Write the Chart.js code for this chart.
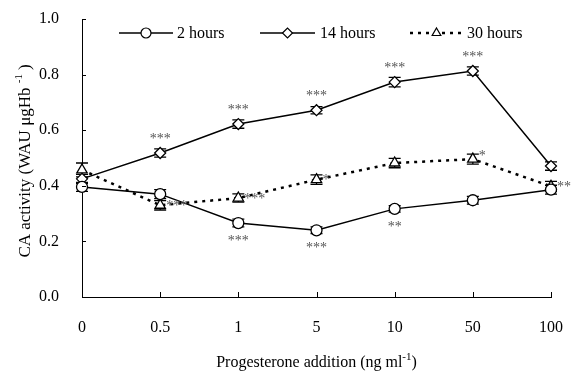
<!DOCTYPE html>
<html><head><meta charset="utf-8">
<script src="https://cdn.jsdelivr.net/npm/chart.js@4/dist/chart.umd.min.js"></script>
<style>html,body{margin:0;padding:0;background:#fff}#wrap{width:573px;height:372px}</style>
</head><body><div id="wrap"><canvas id="c" width="573" height="372"></canvas></div>
<script>
const categories = ['0', '0.5', '1', '5', '10', '50', '100'];
const seriesNames = ['2 hours', '14 hours', '30 hours'];
const hours2 = [0.396, 0.370, 0.266, 0.240, 0.317, 0.348, 0.386];
const hours14 = [0.425, 0.518, 0.622, 0.672, 0.773, 0.813, 0.471];
const hours30 = [0.457, 0.330, 0.356, 0.422, 0.482, 0.496, 0.398];
const err2 = [0.016, 0.016, 0.014, 0.012, 0.012, 0.014, 0.016];
const err14 = [0.016, 0.015, 0.015, 0.013, 0.017, 0.015, 0.015];
const err30 = [0.025, 0.017, 0.015, 0.017, 0.017, 0.018, 0.018];
const stars2 = ['', '', '***', '***', '**', '', ''];
const stars14 = ['', '***', '***', '***', '***', '***', ''];
const stars30 = ['', '***', '***', '*', '', '*', '**'];
const yTicks = [0, 0.2, 0.4, 0.6, 0.8, 1.0];

const FONT = '"Liberation Serif", "Times New Roman", serif';
const errs = [err2, err14, err30];

const overlay = {
  id: 'overlay',
  beforeDatasetsDraw(chart) {
    const ctx = chart.ctx, xs = chart.scales.x, ys = chart.scales.y;
    ctx.save();
    ctx.strokeStyle = '#000'; ctx.lineWidth = 1.3;
    chart.data.datasets.forEach((ds, i) => {
      ds.data.forEach((v, j) => {
        const x = xs.getPixelForValue(j);
        const y1 = ys.getPixelForValue(v + errs[i][j]);
        const y2 = ys.getPixelForValue(v - errs[i][j]);
        ctx.beginPath();
        ctx.moveTo(x, y1); ctx.lineTo(x, y2);
        ctx.moveTo(x - 6, y1); ctx.lineTo(x + 6, y1);
        ctx.moveTo(x - 6, y2); ctx.lineTo(x + 6, y2);
        ctx.stroke();
      });
    });
    ctx.restore();
  },
  afterDraw(chart) {
    const ctx = chart.ctx, xs = chart.scales.x, ys = chart.scales.y;
    const ca = chart.chartArea;
    ctx.save();
    ctx.strokeStyle = '#000'; ctx.lineWidth = 1;
    ys.ticks.forEach(t => {
      const y = Math.round(ys.getPixelForValue(t.value)) + 0.5;
      ctx.beginPath(); ctx.moveTo(ca.left, y); ctx.lineTo(ca.left + 4, y); ctx.stroke();
    });
    categories.forEach((c, j) => {
      const x = Math.round(xs.getPixelForValue(j)) + 0.5;
      ctx.beginPath(); ctx.moveTo(x, ca.bottom); ctx.lineTo(x, ca.bottom - 5); ctx.stroke();
    });
    // significance stars
    ctx.fillStyle = '#555';
    ctx.font = '14px ' + FONT;
    ctx.textBaseline = 'middle';
    const ds = chart.data.datasets;
    stars14.forEach((s, j) => {
      if (!s) return;
      ctx.textAlign = 'center';
      ctx.fillText(s, xs.getPixelForValue(j), ys.getPixelForValue(ds[1].data[j]) - 14);
    });
    stars2.forEach((s, j) => {
      if (!s) return;
      ctx.textAlign = 'center';
      ctx.fillText(s, xs.getPixelForValue(j), ys.getPixelForValue(ds[0].data[j]) + 18);
    });
    stars30.forEach((s, j) => {
      if (!s) return;
      ctx.textAlign = 'left';
      const dy = (j === 5) ? -3 : 1;
      ctx.fillText(s, xs.getPixelForValue(j) + 6, ys.getPixelForValue(ds[2].data[j]) + dy);
    });
    // legend
    ctx.textAlign = 'left'; ctx.textBaseline = 'middle';
    const ly = 33;
    const items = [
      {x0: 119, x1: 173, tx: 177, style: 'circle', dash: []},
      {x0: 260, x1: 315, tx: 320, style: 'rectRot', dash: []},
      {x0: 410, x1: 463, tx: 467, style: 'triangle', dash: [3, 5]}
    ];
    items.forEach((it, i) => {
      ctx.save();
      ctx.strokeStyle = '#000';
      ctx.lineWidth = i === 2 ? 2.5 : 1.5;
      ctx.setLineDash(it.dash);
      ctx.beginPath(); ctx.moveTo(it.x0, ly); ctx.lineTo(it.x1, ly); ctx.stroke();
      ctx.restore();
      ctx.save();
      ctx.fillStyle = '#fff'; ctx.strokeStyle = '#000'; ctx.lineWidth = 1.2;
      Chart.helpers.drawPoint(ctx, {pointStyle: it.style, radius: 5, borderWidth: 1.2, rotation: 0}, (it.x0 + it.x1) / 2, ly);
      ctx.restore();
      ctx.fillStyle = '#000';
      ctx.font = '16px ' + FONT;
      ctx.fillText(seriesNames[i], it.tx, ly + 1);
    });
    // x axis title
    ctx.fillStyle = '#000';
    ctx.textBaseline = 'alphabetic';
    const xt1 = 'Progesterone addition (ng ml', xsup = '-1', xt2 = ')';
    ctx.font = '16px ' + FONT;
    const w1 = ctx.measureText(xt1).width, w3 = ctx.measureText(xt2).width;
    ctx.font = '11px ' + FONT;
    const w2 = ctx.measureText(xsup).width;
    const sx = (ca.left + ca.right) / 2 - (w1 + w2 + w3) / 2;
    const by = 367;
    ctx.textAlign = 'left';
    ctx.font = '16px ' + FONT; ctx.fillText(xt1, sx, by);
    ctx.font = '11px ' + FONT; ctx.fillText(xsup, sx + w1, by - 7);
    ctx.font = '16px ' + FONT; ctx.fillText(xt2, sx + w1 + w2, by);
    // y axis title
    ctx.save();
    ctx.translate(30, (ca.top + ca.bottom) / 2 + 3);
    ctx.rotate(-Math.PI / 2);
    const yt1 = 'CA activity (WAU \u03bcgHb ', ysup = '-1', yt2 = ')';
    ctx.font = '17px ' + FONT;
    const v1 = ctx.measureText(yt1).width, v3 = ctx.measureText(yt2).width;
    ctx.font = '11px ' + FONT;
    const v2 = ctx.measureText(ysup).width + 4;
    const sy = -(v1 + v2 + v3) / 2;
    ctx.font = '17px ' + FONT; ctx.fillText(yt1, sy, 0);
    ctx.font = '11px ' + FONT; ctx.fillText(ysup, sy + v1, -8);
    ctx.font = '17px ' + FONT; ctx.fillText(yt2, sy + v1 + v2, 0);
    ctx.restore();
    ctx.restore();
  }
};

const mk = (label, data, style, dash, bw, r) => ({
  label, data,
  borderColor: '#000', backgroundColor: '#fff',
  borderWidth: bw, borderDash: dash, tension: 0,
  pointStyle: style, pointRadius: r, pointBorderWidth: 1.3,
  pointBackgroundColor: '#fff', pointBorderColor: '#000'
});

new Chart(document.getElementById('c'), {
  type: 'line',
  data: {
    labels: categories,
    datasets: [
      mk(seriesNames[0], hours2, 'circle', [], 1.5, 5.5),
      mk(seriesNames[1], hours14, 'rectRot', [], 1.5, 5.5),
      mk(seriesNames[2], hours30, 'triangle', [3, 5], 2.5, 6)
    ]
  },
  options: {
    responsive: false, animation: false,
    layout: {padding: {left: 0, right: 22, top: 19, bottom: 0}},
    plugins: {legend: {display: false}, tooltip: {enabled: false}},
    scales: {
      x: {
        type: 'category', offset: false,
        grid: {display: false},
        border: {display: true, color: '#000', width: 1},
        ticks: {color: '#000', font: {family: FONT, size: 16}, padding: 13, maxRotation: 0, autoSkip: false},
        afterFit(s) { s.height = 75; s.paddingLeft = 0; s.paddingRight = 0; }
      },
      y: {
        min: 0, max: 1,
        grid: {display: false},
        border: {display: true, color: '#000', width: 1},
        afterBuildTicks(s) { s.ticks = yTicks.map(v => ({value: v})); },
        ticks: {color: '#000', font: {family: FONT, size: 16}, padding: 15, callback: v => Number(v).toFixed(1)},
        afterFit(s) { s.width = 82; s.paddingTop = 0; s.paddingBottom = 0; }
      }
    }
  },
  plugins: [overlay]
});
</script></body></html>
